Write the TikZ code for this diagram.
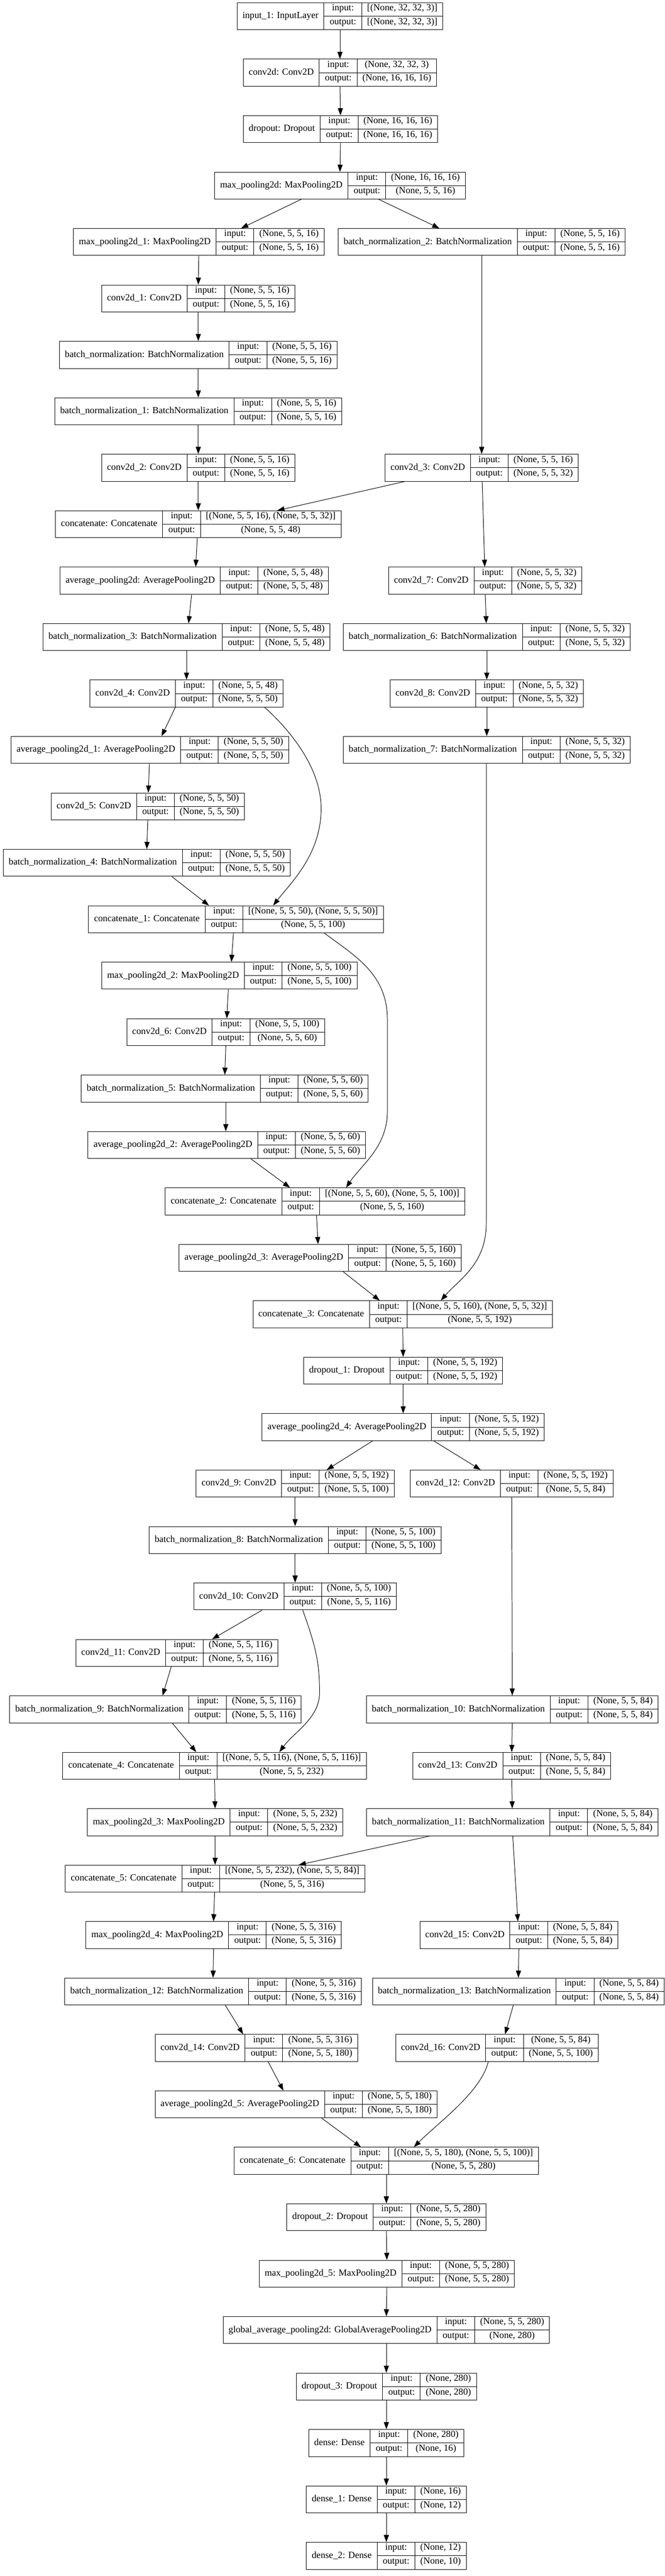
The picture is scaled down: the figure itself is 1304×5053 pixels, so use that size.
\documentclass[tikz,border=0pt]{standalone}
\usepackage{fontspec}
\setmainfont{Liberation Serif}
\usepackage{tikz}
\usetikzlibrary{arrows.meta}

\setlength{\arrayrulewidth}{1pt}
\setlength{\tabcolsep}{10.65pt}
\newcommand{\rowstrut}{\rule[-10.55pt]{0pt}{19.2pt}}
% one layer record: name | input:/output: | shapes
\newcommand{\layerrec}[3]{%
  \begin{tabular}{c|@{}c@{}}
    #1 &
    \begin{tabular}{c|c}
      \rowstrut input: & #2 \\ \hline
      \rowstrut output: & #3
    \end{tabular}
  \end{tabular}}

\tikzset{
  layerbox/.style={draw, line width=1pt, inner sep=0pt, anchor=north, font=\fontsize{18.4}{22}\selectfont},
  conn/.style={-{Triangle[length=14pt,width=10pt]}, line width=1pt},
}

\begin{document}
\begin{tikzpicture}[x=1pt, y=-1pt]
    \useasboundingbox (0,0) rectangle (1304,5053);

    % Stem
    \node[layerbox] (in1) at (667,5) {\layerrec{input\_1: InputLayer}{[(None, 32, 32, 3)]}{[(None, 32, 32, 3)]}};
    \node[layerbox] (c0) at (667,115.7) {\layerrec{conv2d: Conv2D}{(None, 32, 32, 3)}{(None, 16, 16, 16)}};
    \node[layerbox] (do0) at (668,226.4) {\layerrec{dropout: Dropout}{(None, 16, 16, 16)}{(None, 16, 16, 16)}};
    \node[layerbox] (mp0) at (667,337.1) {\layerrec{max\_pooling2d: MaxPooling2D}{(None, 16, 16, 16)}{(None, 5, 5, 16)}};

    % First block
    \node[layerbox] (mp1) at (390,447.8) {\layerrec{max\_pooling2d\_1: MaxPooling2D}{(None, 5, 5, 16)}{(None, 5, 5, 16)}};
    \node[layerbox] (bn2) at (945,447.8) {\layerrec{batch\_normalization\_2: BatchNormalization}{(None, 5, 5, 16)}{(None, 5, 5, 16)}};
    \node[layerbox] (c1) at (389,558.5) {\layerrec{conv2d\_1: Conv2D}{(None, 5, 5, 16)}{(None, 5, 5, 16)}};
    \node[layerbox] (bn0) at (389,669.2) {\layerrec{batch\_normalization: BatchNormalization}{(None, 5, 5, 16)}{(None, 5, 5, 16)}};
    \node[layerbox] (bn1) at (389,779.9) {\layerrec{batch\_normalization\_1: BatchNormalization}{(None, 5, 5, 16)}{(None, 5, 5, 16)}};
    \node[layerbox] (c2) at (389,890.6) {\layerrec{conv2d\_2: Conv2D}{(None, 5, 5, 16)}{(None, 5, 5, 16)}};
    \node[layerbox] (c3) at (945,890.6) {\layerrec{conv2d\_3: Conv2D}{(None, 5, 5, 16)}{(None, 5, 5, 32)}};
    \node[layerbox] (cat0) at (389,1001.3) {\layerrec{concatenate: Concatenate}{[(None, 5, 5, 16), (None, 5, 5, 32)]}{(None, 5, 5, 48)}};
    \node[layerbox] (ap0) at (381,1112) {\layerrec{average\_pooling2d: AveragePooling2D}{(None, 5, 5, 48)}{(None, 5, 5, 48)}};
    \node[layerbox] (c7) at (952,1112) {\layerrec{conv2d\_7: Conv2D}{(None, 5, 5, 32)}{(None, 5, 5, 32)}};
    \node[layerbox] (bn3) at (366,1222.7) {\layerrec{batch\_normalization\_3: BatchNormalization}{(None, 5, 5, 48)}{(None, 5, 5, 48)}};
    \node[layerbox] (bn6) at (955,1222.7) {\layerrec{batch\_normalization\_6: BatchNormalization}{(None, 5, 5, 32)}{(None, 5, 5, 32)}};
    \node[layerbox] (c4) at (366,1333.4) {\layerrec{conv2d\_4: Conv2D}{(None, 5, 5, 48)}{(None, 5, 5, 50)}};
    \node[layerbox] (c8) at (955,1333.4) {\layerrec{conv2d\_8: Conv2D}{(None, 5, 5, 32)}{(None, 5, 5, 32)}};
    \node[layerbox] (ap1) at (294,1444.1) {\layerrec{average\_pooling2d\_1: AveragePooling2D}{(None, 5, 5, 50)}{(None, 5, 5, 50)}};
    \node[layerbox] (bn7) at (955,1444.1) {\layerrec{batch\_normalization\_7: BatchNormalization}{(None, 5, 5, 32)}{(None, 5, 5, 32)}};
    \node[layerbox] (c5) at (290,1554.8) {\layerrec{conv2d\_5: Conv2D}{(None, 5, 5, 50)}{(None, 5, 5, 50)}};
    \node[layerbox] (bn4) at (288,1665.5) {\layerrec{batch\_normalization\_4: BatchNormalization}{(None, 5, 5, 50)}{(None, 5, 5, 50)}};
    \node[layerbox] (cat1) at (463,1776.2) {\layerrec{concatenate\_1: Concatenate}{[(None, 5, 5, 50), (None, 5, 5, 50)]}{(None, 5, 5, 100)}};

    % Second block
    \node[layerbox] (mp2) at (450,1886.9) {\layerrec{max\_pooling2d\_2: MaxPooling2D}{(None, 5, 5, 100)}{(None, 5, 5, 100)}};
    \node[layerbox] (c6) at (443,1997.6) {\layerrec{conv2d\_6: Conv2D}{(None, 5, 5, 100)}{(None, 5, 5, 60)}};
    \node[layerbox] (bn5) at (441,2108.3) {\layerrec{batch\_normalization\_5: BatchNormalization}{(None, 5, 5, 60)}{(None, 5, 5, 60)}};
    \node[layerbox] (ap2) at (445,2219) {\layerrec{average\_pooling2d\_2: AveragePooling2D}{(None, 5, 5, 60)}{(None, 5, 5, 60)}};
    \node[layerbox] (cat2) at (618,2329.7) {\layerrec{concatenate\_2: Concatenate}{[(None, 5, 5, 60), (None, 5, 5, 100)]}{(None, 5, 5, 160)}};
    \node[layerbox] (ap3) at (628,2440.4) {\layerrec{average\_pooling2d\_3: AveragePooling2D}{(None, 5, 5, 160)}{(None, 5, 5, 160)}};
    \node[layerbox] (cat3) at (790,2551.1) {\layerrec{concatenate\_3: Concatenate}{[(None, 5, 5, 160), (None, 5, 5, 32)]}{(None, 5, 5, 192)}};
    \node[layerbox] (do1) at (791,2661.8) {\layerrec{dropout\_1: Dropout}{(None, 5, 5, 192)}{(None, 5, 5, 192)}};
    \node[layerbox] (ap4) at (791,2772.5) {\layerrec{average\_pooling2d\_4: AveragePooling2D}{(None, 5, 5, 192)}{(None, 5, 5, 192)}};

    % Third block
    \node[layerbox] (c9) at (579,2883.2) {\layerrec{conv2d\_9: Conv2D}{(None, 5, 5, 192)}{(None, 5, 5, 100)}};
    \node[layerbox] (c12) at (1004,2883.2) {\layerrec{conv2d\_12: Conv2D}{(None, 5, 5, 192)}{(None, 5, 5, 84)}};
    \node[layerbox] (bn8) at (579,2993.9) {\layerrec{batch\_normalization\_8: BatchNormalization}{(None, 5, 5, 100)}{(None, 5, 5, 100)}};
    \node[layerbox] (c10) at (579,3104.6) {\layerrec{conv2d\_10: Conv2D}{(None, 5, 5, 100)}{(None, 5, 5, 116)}};
    \node[layerbox] (c11) at (347,3215.3) {\layerrec{conv2d\_11: Conv2D}{(None, 5, 5, 116)}{(None, 5, 5, 116)}};
    \node[layerbox] (bn9) at (305,3326) {\layerrec{batch\_normalization\_9: BatchNormalization}{(None, 5, 5, 116)}{(None, 5, 5, 116)}};
    \node[layerbox] (bn10) at (1005,3326) {\layerrec{batch\_normalization\_10: BatchNormalization}{(None, 5, 5, 84)}{(None, 5, 5, 84)}};
    \node[layerbox] (cat4) at (421,3436.7) {\layerrec{concatenate\_4: Concatenate}{[(None, 5, 5, 116), (None, 5, 5, 116)]}{(None, 5, 5, 232)}};
    \node[layerbox] (c13) at (1004,3436.7) {\layerrec{conv2d\_13: Conv2D}{(None, 5, 5, 84)}{(None, 5, 5, 84)}};
    \node[layerbox] (mp3) at (422,3547.4) {\layerrec{max\_pooling2d\_3: MaxPooling2D}{(None, 5, 5, 232)}{(None, 5, 5, 232)}};
    \node[layerbox] (bn11) at (1005,3547.4) {\layerrec{batch\_normalization\_11: BatchNormalization}{(None, 5, 5, 84)}{(None, 5, 5, 84)}};
    \node[layerbox] (cat5) at (422,3658.1) {\layerrec{concatenate\_5: Concatenate}{[(None, 5, 5, 232), (None, 5, 5, 84)]}{(None, 5, 5, 316)}};
    \node[layerbox] (mp4) at (419,3768.8) {\layerrec{max\_pooling2d\_4: MaxPooling2D}{(None, 5, 5, 316)}{(None, 5, 5, 316)}};
    \node[layerbox] (c15) at (1018,3768.8) {\layerrec{conv2d\_15: Conv2D}{(None, 5, 5, 84)}{(None, 5, 5, 84)}};
    \node[layerbox] (bn12) at (418,3879.5) {\layerrec{batch\_normalization\_12: BatchNormalization}{(None, 5, 5, 316)}{(None, 5, 5, 316)}};
    \node[layerbox] (bn13) at (1017,3879.5) {\layerrec{batch\_normalization\_13: BatchNormalization}{(None, 5, 5, 84)}{(None, 5, 5, 84)}};
    \node[layerbox] (c14) at (503,3990.2) {\layerrec{conv2d\_14: Conv2D}{(None, 5, 5, 316)}{(None, 5, 5, 180)}};
    \node[layerbox] (c16) at (975,3990.2) {\layerrec{conv2d\_16: Conv2D}{(None, 5, 5, 84)}{(None, 5, 5, 100)}};
    \node[layerbox] (ap5) at (581,4100.9) {\layerrec{average\_pooling2d\_5: AveragePooling2D}{(None, 5, 5, 180)}{(None, 5, 5, 180)}};
    \node[layerbox] (cat6) at (758,4211.6) {\layerrec{concatenate\_6: Concatenate}{[(None, 5, 5, 180), (None, 5, 5, 100)]}{(None, 5, 5, 280)}};

    % Head
    \node[layerbox] (do2) at (758,4322.3) {\layerrec{dropout\_2: Dropout}{(None, 5, 5, 280)}{(None, 5, 5, 280)}};
    \node[layerbox] (mp5) at (759,4433) {\layerrec{max\_pooling2d\_5: MaxPooling2D}{(None, 5, 5, 280)}{(None, 5, 5, 280)}};
    \node[layerbox] (gap) at (758,4543.7) {\layerrec{global\_average\_pooling2d: GlobalAveragePooling2D}{(None, 5, 5, 280)}{(None, 280)}};
    \node[layerbox] (do3) at (758,4654.4) {\layerrec{dropout\_3: Dropout}{(None, 280)}{(None, 280)}};
    \node[layerbox] (d0) at (758,4765.1) {\layerrec{dense: Dense}{(None, 280)}{(None, 16)}};
    \node[layerbox] (d1) at (758,4875.8) {\layerrec{dense\_1: Dense}{(None, 16)}{(None, 12)}};
    \node[layerbox] (d2) at (758,4986.5) {\layerrec{dense\_2: Dense}{(None, 12)}{(None, 10)}};

    % Straight connectors
    \foreach \a/\b in {in1/c0, c0/do0, do0/mp0, mp1/c1, c1/bn0, bn0/bn1, bn1/c2, bn2/c3, c2/cat0,
                       bn3/c4, bn6/c8, c8/bn7, c5/bn4, c6/bn5, cat3/do1, do1/ap4, c9/bn8, bn8/c10,
                       c12/bn10, bn10/c13, cat4/mp3, c13/bn11, mp3/cat5, mp4/bn12, c15/bn13,
                       cat6/do2, do2/mp5, mp5/gap, gap/do3, do3/d0, d0/d1, d1/d2}
        \draw[conn] (\a.south) -- (\b.north);

    % Slanted connectors
    \foreach \a/\sa/\b/\sb in {mp0/-76/mp1/83, mp0/76/bn2/-83, c3/-151/cat0/155, c3/1/c7/-1,
                               cat0/-2/ap0/3, ap0/-5/bn3/4, c7/0/bn6/-1, c4/-22/ap1/23, ap1/-1/c5/1,
                               bn4/49/cat1/-53, cat1/-5/mp2/4, mp2/-2/c6/2, bn5/2/ap2/-2,
                               ap2/47/cat2/-49, cat2/3/ap3/-4, ap3/45/cat3/-45, ap4/-60/c9/62,
                               ap4/60/c12/-61, c10/-65/c11/69, c11/-11/bn9/14, bn9/33/cat4/-36,
                               bn11/-161/cat5/164, bn11/1/c15/-2, cat5/-1/mp4/0, bn12/24/c14/-26,
                               bn13/-10/c16/16, c14/23/ap5/-25, ap5/50/cat6/-50}
        \draw[conn] ([xshift=\sa]\a.south) -- ([xshift=\sb]\b.north);

    % Skip connectors
    \draw[conn] ([xshift=153]c4.south) .. controls +(50,45) and +(0,-80) .. (630,1586)
        .. controls +(0,90) and +(35,-45) .. ([xshift=73]cat1.north);
    \draw[conn] ([xshift=173]cat1.south) .. controls +(60,45) and +(0,-90) .. (760,2000) -- (760,2180)
        .. controls +(0,70) and +(30,-45) .. ([xshift=61]cat2.north);
    \draw[conn] ([xshift=-1]bn7.south) -- (954,2400) .. controls +(0,80) and +(35,-41) .. ([xshift=75]cat3.north);
    \draw[conn] ([xshift=15]c10.south) .. controls +(25,70) and +(0,-60) .. (627,3320)
        .. controls +(0,50) and +(30,-40) .. ([xshift=127]cat4.north);
    \draw[conn] ([xshift=-17]c16.south) .. controls +(-15,60) and +(50,-50) .. ([xshift=54]cat6.north);
\end{tikzpicture}
\end{document}
